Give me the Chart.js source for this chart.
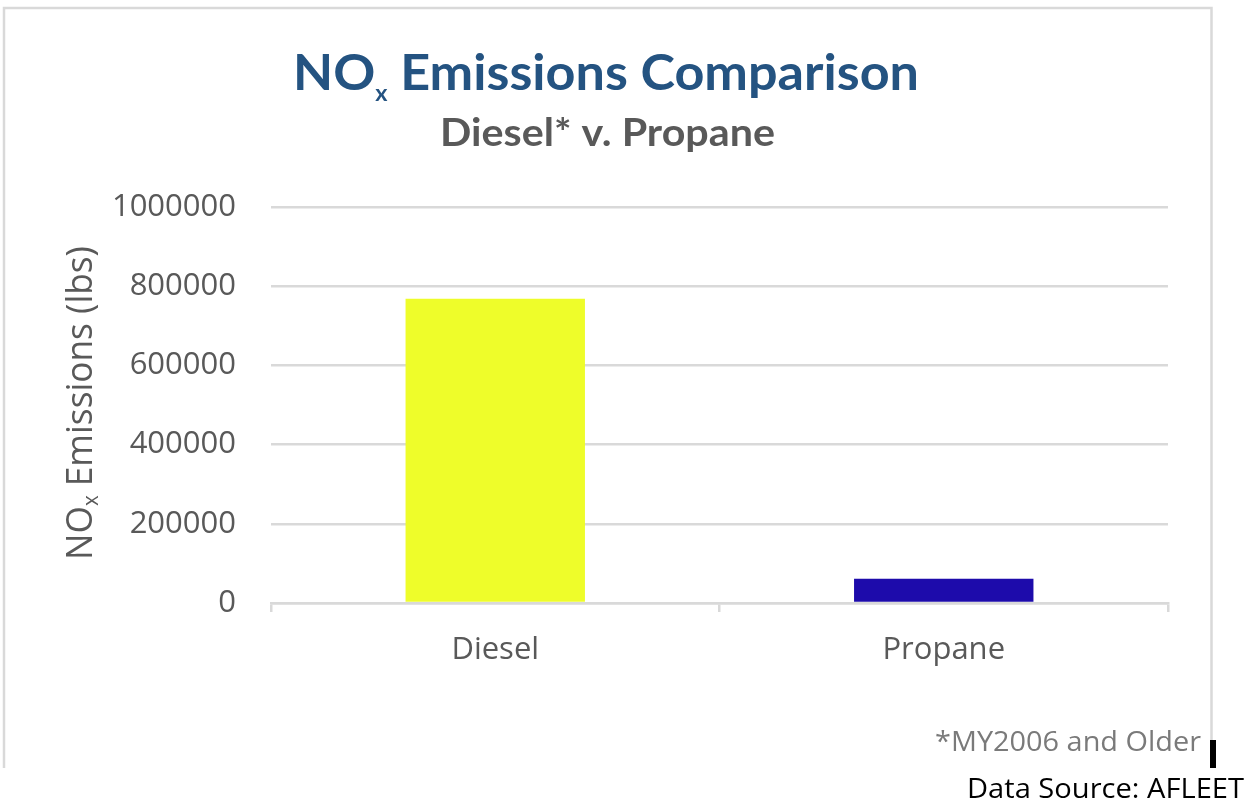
<!DOCTYPE html>
<html><head><meta charset="utf-8">
<script src="https://cdn.jsdelivr.net/npm/chart.js@4.4.1/dist/chart.umd.min.js"></script>
<style>html,body{margin:0;padding:0;background:#fff;} canvas{display:block;}</style>
</head><body>
<canvas id="c" width="1252" height="803"></canvas>
<script>
const categories = ['Diesel', 'Propane'];
const noxEmissions = [768000, 61000];
const barColors = ['#EEFD2A', '#1D0BAB'];
const yTickValues = [0, 200000, 400000, 600000, 800000, 1000000];
const titleParts = ['NO', 'x', ' Emissions Comparison'];
const subtitleText = 'Diesel* v. Propane';
const yTitleParts = ['NO', 'x', ' Emissions (lbs)'];
const footnoteText = '*MY2006 and Older';
const sourceText = 'Data Source: AFLEET';

function drawParts(ctx, parts, family, weight, color, x, y, targetW, rot) {
  ctx.save();
  ctx.fillStyle = color;
  ctx.textBaseline = 'alphabetic';
  ctx.textAlign = 'left';
  let total = 0;
  parts.forEach(p => {
    ctx.font = weight + ' ' + p.size + 'px "' + family + '"';
    p.w = ctx.measureText(p.text).width;
    total += p.w;
  });
  ctx.translate(x, y);
  if (rot) ctx.rotate(rot);
  ctx.scale(targetW / total, 1);
  let cx = 0;
  parts.forEach(p => {
    ctx.font = weight + ' ' + p.size + 'px "' + family + '"';
    ctx.fillText(p.text, cx, p.dy || 0);
    cx += p.w;
  });
  ctx.restore();
}

const decor = {
  id: 'decor',
  afterDraw(chart) {
    const ctx = chart.ctx;
    ctx.save();
    ctx.strokeStyle = '#d9d9d9';
    ctx.lineWidth = 2.5;
    ctx.beginPath();
    ctx.moveTo(4, 768); ctx.lineTo(4, 8); ctx.lineTo(1211.5, 8); ctx.lineTo(1211.5, 740);
    ctx.stroke();
    ctx.fillStyle = '#000';
    ctx.fillRect(1210, 740, 6, 28);
    ctx.restore();

    drawParts(ctx, [
      {text: titleParts[0], size: 49},
      {text: titleParts[1], size: 22, dy: 11},
      {text: titleParts[2], size: 49}
    ], 'Lato', 'bold', '#245381', 293, 90, 626);

    drawParts(ctx, [{text: subtitleText, size: 39}], 'Lato', 'bold', '#595959', 440, 146, 335);

    drawParts(ctx, [
      {text: yTitleParts[0], size: 36},
      {text: yTitleParts[1], size: 21, dy: 6},
      {text: yTitleParts[2], size: 36}
    ], 'Open Sans', 'normal', '#595959', 92, 560, 314, -Math.PI / 2);

    drawParts(ctx, [{text: footnoteText, size: 28}], 'Open Sans', 'normal', '#7a7a7a', 935, 751, 266);
    drawParts(ctx, [{text: sourceText, size: 27}], 'Open Sans', 'normal', '#000', 967, 798, 277);
  }
};

new Chart(document.getElementById('c'), {
  type: 'bar',
  data: {
    labels: categories,
    datasets: [{
      data: noxEmissions,
      backgroundColor: barColors,
      borderWidth: 0,
      barPercentage: 0.4,
      categoryPercentage: 1
    }]
  },
  options: {
    responsive: false,
    animation: false,
    devicePixelRatio: 1,
    layout: {padding: {top: 207, left: 0, right: 84, bottom: 0}},
    plugins: {legend: {display: false}, tooltip: {enabled: false}, title: {display: false}},
    scales: {
      x: {
        grid: {offset: true, drawOnChartArea: false, drawTicks: true, tickLength: 9, color: '#d9d9d9', lineWidth: 2.5},
        border: {color: '#d9d9d9', width: 2.5},
        ticks: {color: '#595959', font: {family: 'Open Sans', size: 31}, padding: 20},
        afterFit(s) { s.height = 200; }
      },
      y: {
        min: 0, max: 1000000,
        afterBuildTicks(s) { s.ticks = yTickValues.map(v => ({value: v})); },
        ticks: {color: '#595959', font: {family: 'Open Sans', size: 31}, padding: 35, callback: v => String(v)},
        grid: {color: '#d9d9d9', lineWidth: 2.5, drawTicks: false},
        border: {display: false},
        afterFit(s) { s.width = 271; }
      }
    }
  },
  plugins: [decor]
});
</script>
</body></html>
